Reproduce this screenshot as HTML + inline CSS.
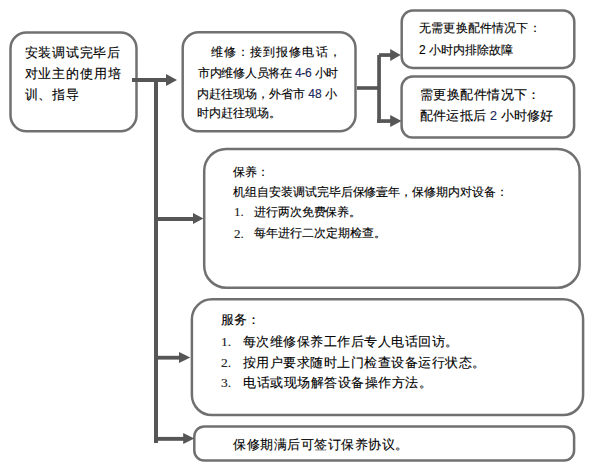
<!DOCTYPE html>
<html><head><meta charset="utf-8">
<style>
html,body{margin:0;padding:0;background:#fff;}
body{width:615px;height:472px;position:relative;overflow:hidden;font-family:"Liberation Sans",sans-serif;color:#000;}
svg{position:absolute;left:0;top:0;}
.t{position:absolute;white-space:pre;line-height:1;-webkit-text-stroke:0.12px #000;}
.n{font-family:"Liberation Serif",serif;color:#222;}
.b{color:#1c2a6a;}
</style></head><body>
<svg width="615" height="472" viewBox="0 0 615 472">
<g fill="#fff" stroke="#707070" stroke-width="2.5">
<rect x="10.5" y="32.5" width="126" height="98.8" rx="16"/>
<rect x="182.7" y="32.2" width="172.8" height="99.1" rx="16"/>
<rect x="401.7" y="10.6" width="172.6" height="57.3" rx="11"/>
<rect x="401.6" y="76.6" width="172.5" height="60.9" rx="11"/>
<rect x="204.2" y="148.9" width="375.4" height="138.8" rx="22"/>
<rect x="191.9" y="299.3" width="391.2" height="115.8" rx="20"/>
<rect x="194.3" y="426.5" width="379.8" height="34" rx="10"/>
</g>
<g fill="#565656" stroke="none">
<rect x="132" y="78" width="35" height="4"/>
<polygon points="166,74 177,80 166,86"/>
<rect x="154" y="80" width="4" height="363"/>
<rect x="156" y="217" width="37" height="4"/>
<polygon points="193,212.9 203.4,218.6 193,224.1"/>
<rect x="156" y="355.8" width="24" height="3.8"/>
<polygon points="179,352 190.3,357.5 179,363"/>
<rect x="156" y="436.9" width="28" height="3.9"/>
<polygon points="183.2,432.9 194.3,438.4 183.2,443.9"/>
<rect x="357" y="86.2" width="22" height="3.6"/>
<rect x="377.2" y="55" width="3.7" height="68"/>
<rect x="379" y="53.2" width="12" height="3.7"/>
<polygon points="390.2,49 400.7,55 390.2,61"/>
<rect x="377.2" y="119.2" width="14" height="3.7"/>
<polygon points="390.2,115 401.5,121 390.2,127"/>
</g>
</svg>

<div class="t" style="left:24.5px;top:47px;font-size:12.5px;letter-spacing:0.767px">安装调试完毕后</div>
<div class="t" style="left:24.5px;top:68px;font-size:12.5px;letter-spacing:0.934px">对业主的使用培</div>
<div class="t" style="left:24.5px;top:89px;font-size:12.5px;letter-spacing:0.85px">训、指导</div>

<div class="t" style="left:211px;top:46px;font-size:12px;letter-spacing:1.066px">维修：接到报修电话，</div>
<div class="t" style="left:198px;top:67px;font-size:12px;letter-spacing:-0.27px">市内维修人员将在 <span class="b">4-6</span> 小时</div>
<div class="t" style="left:197px;top:88px;font-size:12px;letter-spacing:0">内赶往现场，外省市 <span class="b">48</span> 小</div>
<div class="t" style="left:197px;top:107px;font-size:12px;letter-spacing:0">时内赶往现场。</div>

<div class="t" style="left:419px;top:22px;font-size:12px;letter-spacing:0.184px">无需更换配件情况下：</div>
<div class="t" style="left:419px;top:44px;letter-spacing:0.025px;font-size:12px;">2 小时内排除故障</div>

<div class="t" style="left:420px;top:89px;font-size:12.5px;letter-spacing:0.425px">需更换配件情况下：</div>
<div class="t" style="left:420px;top:110px;font-size:12.5px;letter-spacing:0.233px">配件运抵后 <span class="b">2</span> 小时修好</div>

<div class="t" style="left:233px;top:166px;font-size:12px;">保养：</div>
<div class="t" style="left:233px;top:186px;letter-spacing:-0.05px;font-size:12px;">机组自安装调试完毕后保修壹年，保修期内对设备：</div>
<div class="t n" style="left:234px;top:205px;font-size:13px;">1.</div>
<div class="t" style="left:254px;top:206px;letter-spacing:-0.1px;font-size:12px;">进行两次免费保养。</div>
<div class="t n" style="left:234px;top:227px;font-size:13px;">2.</div>
<div class="t" style="left:254px;top:227px;font-size:12px;letter-spacing:-0.01px">每年进行二次定期检查。</div>

<div class="t" style="left:221px;top:313px;font-size:13px;letter-spacing:0.2px">服务：</div>
<div class="t n" style="left:221px;top:335px;font-size:13.5px;">1.</div>
<div class="t" style="left:243px;top:335px;font-size:13px;letter-spacing:0.477px">每次维修保养工作后专人电话回访。</div>
<div class="t n" style="left:221px;top:356px;font-size:13.5px;">2.</div>
<div class="t" style="left:243px;top:356px;font-size:13px;letter-spacing:0.474px">按用户要求随时上门检查设备运行状态。</div>
<div class="t n" style="left:221px;top:376px;font-size:13.5px;">3.</div>
<div class="t" style="left:243px;top:376px;font-size:13px;letter-spacing:0.527px">电话或现场解答设备操作方法。</div>

<div class="t" style="left:233px;top:438px;font-size:13px;letter-spacing:0.533px">保修期满后可签订保养协议。</div>
</body></html>
